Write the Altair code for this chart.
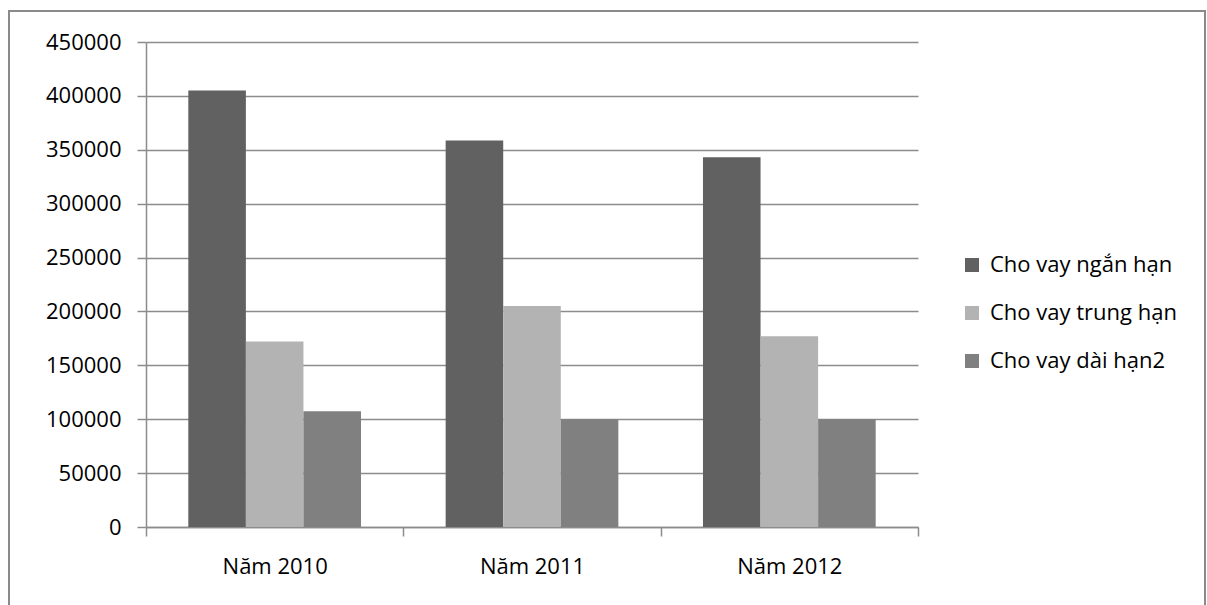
import altair as alt
import pandas as pd

# Loan balances by year and loan term
years = ["Năm 2010", "Năm 2011", "Năm 2012"]
series = ["Cho vay ngắn hạn", "Cho vay trung hạn", "Cho vay dài hạn2"]
short_term = [405000, 358500, 343000]
medium_term = [172000, 205000, 177000]
long_term = [107500, 100000, 100000]
y_ticks = [0, 50000, 100000, 150000, 200000, 250000, 300000, 350000, 400000, 450000]
colors = ["#616161", "#b3b3b3", "#808080"]

rows = []
for i, yr in enumerate(years):
    for name, vals in zip(series, [short_term, medium_term, long_term]):
        rows.append({"year": yr, "series": name, "value": vals[i]})
df = pd.DataFrame(rows)

W, H = 772, 485
FONT = "Open Sans"
GRID = "#8c8c8c"
TEXT = "#000000"

bars = alt.Chart(df).mark_bar().encode(
    x=alt.X(
        "year:N",
        sort=years,
        scale=alt.Scale(paddingInner=0, paddingOuter=0),
        axis=alt.Axis(
            title=None,
            labelAngle=0,
            tickBand="extent",
            tickSize=9,
            tickColor=GRID,
            domainColor=GRID,
            domainWidth=1.5,
            tickWidth=1.5,
            labelPadding=20,
            labelFont=FONT,
            labelFontSize=22,
            labelColor=TEXT,
        ),
    ),
    xOffset=alt.XOffset(
        "series:N",
        sort=series,
        scale=alt.Scale(paddingInner=0, paddingOuter=0.735),
    ),
    y=alt.Y(
        "value:Q",
        scale=alt.Scale(domain=[0, 450000], nice=False),
        axis=alt.Axis(
            title=None,
            values=y_ticks,
            format="d",
            tickSize=9,
            tickColor=GRID,
            tickWidth=1.5,
            domainColor=GRID,
            domainWidth=1.5,
            gridColor=GRID,
            gridWidth=1.5,
            labelPadding=16,
            labelFont=FONT,
            labelFontSize=22,
            labelColor=TEXT,
        ),
    ),
    color=alt.Color(
        "series:N",
        sort=series,
        scale=alt.Scale(domain=series, range=colors),
        legend=alt.Legend(
            title=None,
            orient="none",
            legendX=815,
            legendY=212,
            padding=0,
            symbolType="square",
            symbolSize=196,
            symbolStrokeWidth=0,
            symbolOpacity=1,
            labelOffset=7,
            labelLimit=400,
            rowPadding=26,
            labelFont=FONT,
            labelFontSize=22,
            labelColor=TEXT,
        ),
    ),
)

# Outer chart frame
frame = alt.Chart(pd.DataFrame({"k": [0]})).mark_rect(
    fill=None, stroke="#8a8a8a", strokeWidth=2
).encode(
    x=alt.value(-137), x2=alt.value(1059), y=alt.value(-31), y2=alt.value(570)
)

chart = alt.layer(frame, bars).properties(
    width=W,
    height=H,
    autosize=alt.AutoSizeParams(type="none"),
    padding={"left": 146, "top": 42, "right": 289, "bottom": 78},
    background="white",
).configure_view(stroke=None)

chart.save("out.html", embed_options={"renderer": "svg", "actions": False})
